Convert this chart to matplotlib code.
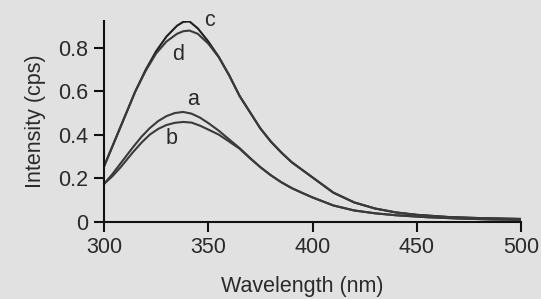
import matplotlib.pyplot as plt

# emission spectra (wavelength in nm, intensity in cps)
wl_cd = [300, 305, 310, 315, 320, 325, 330, 335, 338, 341, 345, 350, 355, 360,
         365, 370, 375, 380, 385, 390, 395, 400, 405, 410, 420, 430, 440, 450,
         465, 480, 500]
c_vals = [0.255, 0.37, 0.485, 0.6, 0.70, 0.785, 0.853, 0.902, 0.92, 0.922,
          0.89, 0.83, 0.76, 0.675, 0.58, 0.505, 0.43, 0.37, 0.32, 0.275, 0.24,
          0.205, 0.17, 0.135, 0.09, 0.062, 0.044, 0.033, 0.023, 0.018, 0.014]
d_vals = [0.255, 0.37, 0.485, 0.6, 0.695, 0.775, 0.83, 0.865, 0.877, 0.88,
          0.865, 0.82, 0.758, 0.675, 0.58, 0.505, 0.43, 0.37, 0.32, 0.275,
          0.24, 0.205, 0.17, 0.135, 0.09, 0.062, 0.044, 0.033, 0.023, 0.018,
          0.014]

wl_ab = [300, 304, 308, 314, 318, 322, 326, 330, 334, 338, 342, 346, 350, 355,
         360, 365, 370, 375, 380, 385, 390, 395, 400, 410, 420, 430, 440, 455,
         470, 485, 500]
a_vals = [0.175, 0.22, 0.27, 0.345, 0.392, 0.432, 0.464, 0.487, 0.501, 0.506,
          0.498, 0.48, 0.455, 0.42, 0.38, 0.34, 0.295, 0.252, 0.215, 0.183,
          0.156, 0.134, 0.113, 0.076, 0.053, 0.04, 0.031, 0.022, 0.016, 0.012,
          0.01]
b_vals = [0.175, 0.21, 0.252, 0.322, 0.365, 0.402, 0.428, 0.446, 0.456, 0.46,
          0.457, 0.443, 0.425, 0.402, 0.37, 0.337, 0.293, 0.252, 0.215, 0.183,
          0.156, 0.134, 0.113, 0.076, 0.053, 0.04, 0.031, 0.022, 0.016, 0.012,
          0.01]

x_ticks = [300, 350, 400, 450, 500]
y_ticks = [0, 0.2, 0.4, 0.6, 0.8]
y_tick_labels = ['0', '0.2', '0.4', '0.6', '0.8']

bg = '#e1e1e1'
ink = '#2a2a2a'

plt.rcParams['font.family'] = ['Liberation Sans', 'DejaVu Sans']
plt.rcParams['font.size'] = 15.5

fig = plt.figure(figsize=(5.41, 2.99), dpi=100, facecolor=bg)
ax = fig.add_axes([104 / 541, 1 - 222 / 299, 417 / 541, 201 / 299])
ax.set_facecolor(bg)

ax.plot(wl_cd, c_vals, color='#1e1e1e', lw=1.5)
ax.plot(wl_cd, d_vals, color='#3a3a3a', lw=1.5)
ax.plot(wl_ab, a_vals, color='#3a3a3a', lw=1.5)
ax.plot(wl_ab, b_vals, color='#3a3a3a', lw=1.5)

# curve letters
for txt, x, y in [('c', 350.4, 0.925), ('d', 335.5, 0.772),
                  ('a', 342.7, 0.561), ('b', 332.6, 0.386)]:
    ax.text(x, y, txt, ha='center', va='center', color=ink, clip_on=False)

ax.set_xlim(300, 500)
ax.set_ylim(0, 0.924)
ax.set_xticks(x_ticks)
ax.set_yticks(y_ticks)
ax.set_yticklabels(y_tick_labels)

for side in ['top', 'right']:
    ax.spines[side].set_visible(False)
for side in ['left', 'bottom']:
    ax.spines[side].set_linewidth(1.5)
    ax.spines[side].set_color('#111111')

ax.tick_params(axis='both', direction='out', length=7.5, width=1.5,
               color='#111111', labelcolor=ink)
ax.tick_params(axis='x', pad=3)
ax.tick_params(axis='y', pad=4)

ax.set_xlabel('Wavelength (nm)', color=ink)
ax.set_ylabel('Intensity (cps)', color=ink)
ax.xaxis.set_label_coords(0.476, -0.27)
ax.yaxis.set_label_coords(-0.14, 0.5)

fig.savefig('out.png', dpi=100, facecolor=bg)
